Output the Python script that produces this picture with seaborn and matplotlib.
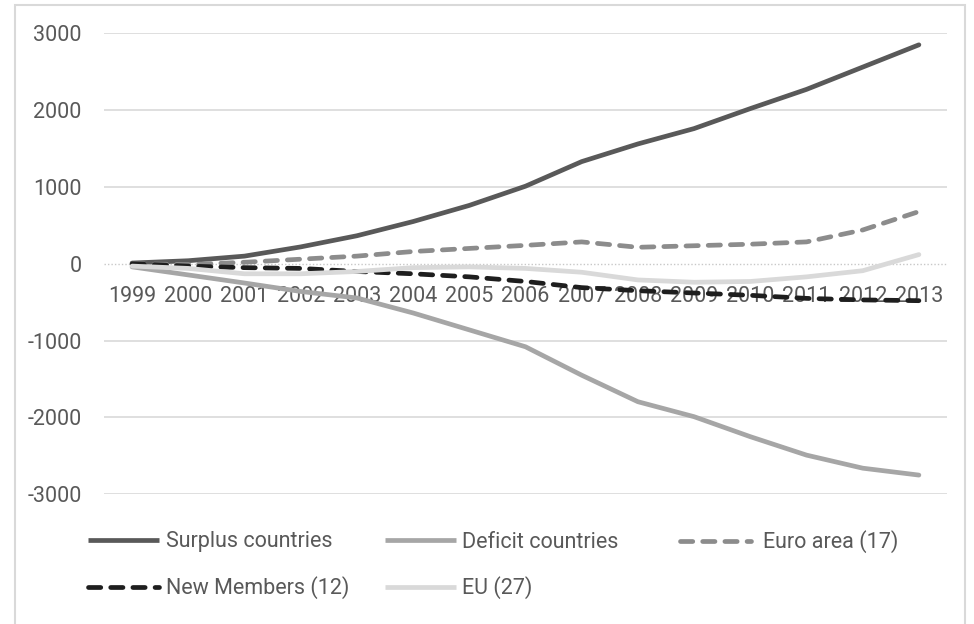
import matplotlib
matplotlib.use("Agg")
import matplotlib.pyplot as plt
from matplotlib.patches import Rectangle
import numpy as np
import pandas as pd
import seaborn as sns

# Cumulated current account balances, 1999-2013
years = [str(y) for y in range(1999, 2014)]
surplus = [10, 40, 100, 220, 365, 550, 760, 1010, 1330, 1560, 1760, 2020, 2270, 2560, 2850]
deficit = [-40, -145, -250, -360, -445, -640, -860, -1080, -1450, -1795, -1990, -2250, -2490, -2660, -2750]
euro_area = [0, -10, 20, 60, 100, 160, 200, 240, 285, 215, 235, 255, 285, 440, 680]
new_members = [0, -30, -50, -60, -100, -130, -170, -230, -310, -350, -380, -410, -450, -470, -480]
eu27 = [-30, -60, -130, -130, -100, -50, -40, -60, -110, -210, -240, -230, -170, -90, 120]

series_names = ["Surplus countries", "Deficit countries", "Euro area (17)",
                "New Members (12)", "EU (27)"]
series_values = [surplus, deficit, euro_area, new_members, eu27]
yticks = [-3000, -2000, -1000, 0, 1000, 2000, 3000]

df = pd.concat(
    [pd.DataFrame({"year": years, "value": vals, "series": name})
     for name, vals in zip(series_names, series_values)],
    ignore_index=True,
)

palette = {
    "Surplus countries": "#595959",
    "Deficit countries": "#a6a6a6",
    "Euro area (17)": "#8c8c8c",
    "New Members (12)": "#1e1e1e",
    "EU (27)": "#d9d9d9",
}
dash = (2.6, 2.1)
dashes = {
    "Surplus countries": "",
    "Deficit countries": "",
    "Euro area (17)": dash,
    "New Members (12)": dash,
    "EU (27)": "",
}

sns.set_theme(style="white")
plt.rcParams["font.family"] = ["Roboto", "DejaVu Sans"]
text_color = "#595959"
fs = 15.5

fig = plt.figure(figsize=(9.74, 6.24), dpi=100)
ax = fig.add_axes([104 / 974, 1 - 494.3 / 624, (947 - 104) / 974, (494.3 - 33.3) / 624])

sns.lineplot(data=df, x="year", y="value", hue="series", style="series",
             palette=palette, dashes=dashes, hue_order=series_names,
             style_order=series_names, linewidth=3.4, sort=False, ax=ax)

for line in ax.get_lines():
    line.set_dash_capstyle("round")
    line.set_solid_capstyle("round")
    line.set_solid_joinstyle("round")
    line.set_dash_joinstyle("round")

handles, labels = ax.get_legend_handles_labels()
ax.get_legend().remove()

ax.set_xlim(-0.5, len(years) - 0.5)
ax.set_ylim(-3000, 3000)
ax.set_yticks(yticks)
ax.set_yticklabels([str(v) for v in yticks])
ax.set_xlabel("")
ax.set_ylabel("")

# gridlines, dotted at zero
for v in yticks:
    if v == 0:
        ax.axhline(0, color="#c8c8c8", lw=1.0, ls=(0, (1, 1.5)), zorder=0.5)
    else:
        ax.axhline(v, color="#d9d9d9", lw=1.2, zorder=0.5)

for s in ax.spines.values():
    s.set_visible(False)
ax.spines["bottom"].set_position(("data", 0))
ax.set_axisbelow(True)
ax.tick_params(axis="x", length=0, pad=16, labelsize=fs, labelcolor=text_color)
ax.tick_params(axis="y", length=0, pad=16, labelsize=fs, labelcolor=text_color)

# legend entries on a fixed grid below the plot (x of handle start, row centre y)
slots = {
    "Surplus countries": (88, 542),
    "Deficit countries": (385, 542),
    "Euro area (17)": (680, 542),
    "New Members (12)": (88, 588),
    "EU (27)": (385, 588),
}
for h, lab in zip(handles, labels):
    if lab not in slots:
        continue
    x0, y0 = slots[lab]
    h.set_linewidth(3.4)
    h.set_dash_capstyle("round")
    h.set_solid_capstyle("butt")
    leg = fig.legend([h], [lab], loc="center left",
                     bbox_to_anchor=(x0 / 974, 1 - y0 / 624), frameon=False,
                     fontsize=fs, handlelength=3.3,
                     handletextpad=0.55 if lab == "Euro area (17)" else 0.3,
                     borderpad=0, borderaxespad=0)
    for t in leg.get_texts():
        t.set_color(text_color)

# outer frame
fig.add_artist(Rectangle((15 / 974, -0.05), 950 / 974, 1.05 - 5 / 624,
                         transform=fig.transFigure, fill=False,
                         edgecolor="#d9d9d9", lw=1.5))

fig.savefig("out.png", dpi=100)
